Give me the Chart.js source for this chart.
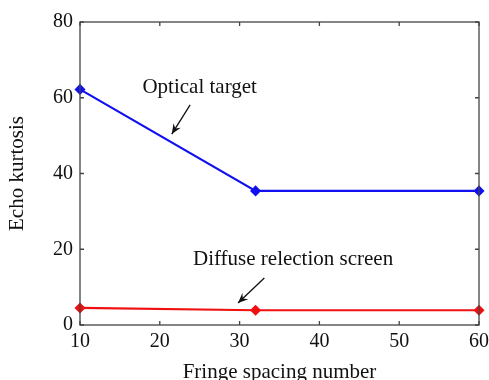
<!DOCTYPE html>
<html><head><meta charset="utf-8">
<script src="https://cdn.jsdelivr.net/npm/chart.js@4/dist/chart.umd.min.js"></script>
<style>html,body{margin:0;padding:0;background:#fff}#wrap{width:489px;height:380px}</style>
</head><body><div id="wrap"><canvas id="c" width="489" height="380"></canvas></div>
<script>
const fringeSpacing = [10, 32, 60];
const opticalTarget = [62.2, 35.4, 35.4];
const diffuseScreen = [4.5, 3.9, 3.9];
const xTicks = [10, 20, 30, 40, 50, 60];
const yTicks = [0, 20, 40, 60, 80];
const xTitle = 'Fringe spacing number';
const yTitle = 'Echo kurtosis';
const notes = [
  {text: 'Optical target', x: 25.0, y: 62.6, ax: 23.8, ay: 58.1, tx: 21.5, ty: 50.4},
  {text: 'Diffuse relection screen', x: 36.7, y: 17.2, ax: 33.1, ay: 12.4, tx: 29.8, ty: 5.8}
];
const FONT = '"Liberation Serif","Times New Roman",serif';

const toPts = (xs, ys) => xs.map((x, i) => ({x, y: ys[i]}));

const framePlugin = {
  id: 'frame',
  afterDraw(chart) {
    const {ctx, chartArea: a, scales: {x, y}} = chart;
    ctx.save();
    ctx.strokeStyle = '#444';
    ctx.lineWidth = 1.3;
    ctx.strokeRect(a.left, a.top, a.right - a.left, a.bottom - a.top);
    const L = 4;
    ctx.beginPath();
    xTicks.forEach(v => {
      const px = x.getPixelForValue(v);
      ctx.moveTo(px, a.bottom); ctx.lineTo(px, a.bottom - L);
      ctx.moveTo(px, a.top); ctx.lineTo(px, a.top + L);
    });
    yTicks.forEach(v => {
      const py = y.getPixelForValue(v);
      ctx.moveTo(a.left, py); ctx.lineTo(a.left + L, py);
      ctx.moveTo(a.right, py); ctx.lineTo(a.right - L, py);
    });
    ctx.stroke();
    // annotations
    ctx.fillStyle = '#111';
    ctx.font = '21px ' + FONT;
    ctx.textAlign = 'center';
    ctx.textBaseline = 'middle';
    notes.forEach(n => {
      ctx.fillText(n.text, x.getPixelForValue(n.x), y.getPixelForValue(n.y));
      const x1 = x.getPixelForValue(n.ax), y1 = y.getPixelForValue(n.ay);
      const x2 = x.getPixelForValue(n.tx), y2 = y.getPixelForValue(n.ty);
      ctx.strokeStyle = '#111';
      ctx.lineWidth = 1.3;
      ctx.beginPath(); ctx.moveTo(x1, y1); ctx.lineTo(x2, y2); ctx.stroke();
      const ang = Math.atan2(y2 - y1, x2 - x1);
      const hl = 11, hw = 0.4;
      ctx.beginPath();
      ctx.moveTo(x2, y2);
      ctx.lineTo(x2 - hl * Math.cos(ang - hw), y2 - hl * Math.sin(ang - hw));
      ctx.lineTo(x2 - hl * 0.6 * Math.cos(ang), y2 - hl * 0.6 * Math.sin(ang));
      ctx.lineTo(x2 - hl * Math.cos(ang + hw), y2 - hl * Math.sin(ang + hw));
      ctx.closePath();
      ctx.fillStyle = '#111';
      ctx.fill();
    });
    ctx.restore();
  }
};

new Chart(document.getElementById('c'), {
  type: 'line',
  data: {
    datasets: [
      {label: 'Optical target', data: toPts(fringeSpacing, opticalTarget),
       borderColor: '#1010f0', backgroundColor: '#1010f0', borderWidth: 2.2,
       pointStyle: 'rectRot', pointRadius: 4, pointHoverRadius: 4, tension: 0},
      {label: 'Diffuse relection screen', data: toPts(fringeSpacing, diffuseScreen),
       borderColor: '#f01010', backgroundColor: '#f01010', borderWidth: 2.2,
       pointStyle: 'rectRot', pointRadius: 4, pointHoverRadius: 4, tension: 0}
    ]
  },
  plugins: [framePlugin],
  options: {
    responsive: false,
    animation: false,
    clip: false,
    layout: {padding: {top: 22, right: 10, left: 0, bottom: 0}},
    plugins: {legend: {display: false}, tooltip: {enabled: false}},
    scales: {
      x: {
        type: 'linear', min: 10, max: 60,
        afterBuildTicks: s => { s.ticks = xTicks.map(v => ({value: v})); },
        grid: {display: false, drawTicks: false},
        border: {display: false},
        ticks: {color: '#111', font: {family: FONT, size: 20}, padding: 5, maxRotation: 0},
        title: {display: true, text: xTitle, color: '#111', font: {family: FONT, size: 21}, padding: {top: 0, bottom: -5}},
        afterFit: s => { s.height = 55; s.paddingRight = 0; s.paddingLeft = 0; }
      },
      y: {
        type: 'linear', min: 0, max: 80,
        afterBuildTicks: s => { s.ticks = yTicks.map(v => ({value: v})); },
        grid: {display: false, drawTicks: false},
        border: {display: false},
        ticks: {color: '#111', font: {family: FONT, size: 20}, padding: 7},
        title: {display: true, text: yTitle, color: '#111', font: {family: FONT, size: 21}, padding: {top: 5, bottom: 0}},
        afterFit: s => { s.width = 80; s.paddingTop = 0; s.paddingBottom = 0; }
      }
    }
  }
});
</script>
</body></html>
